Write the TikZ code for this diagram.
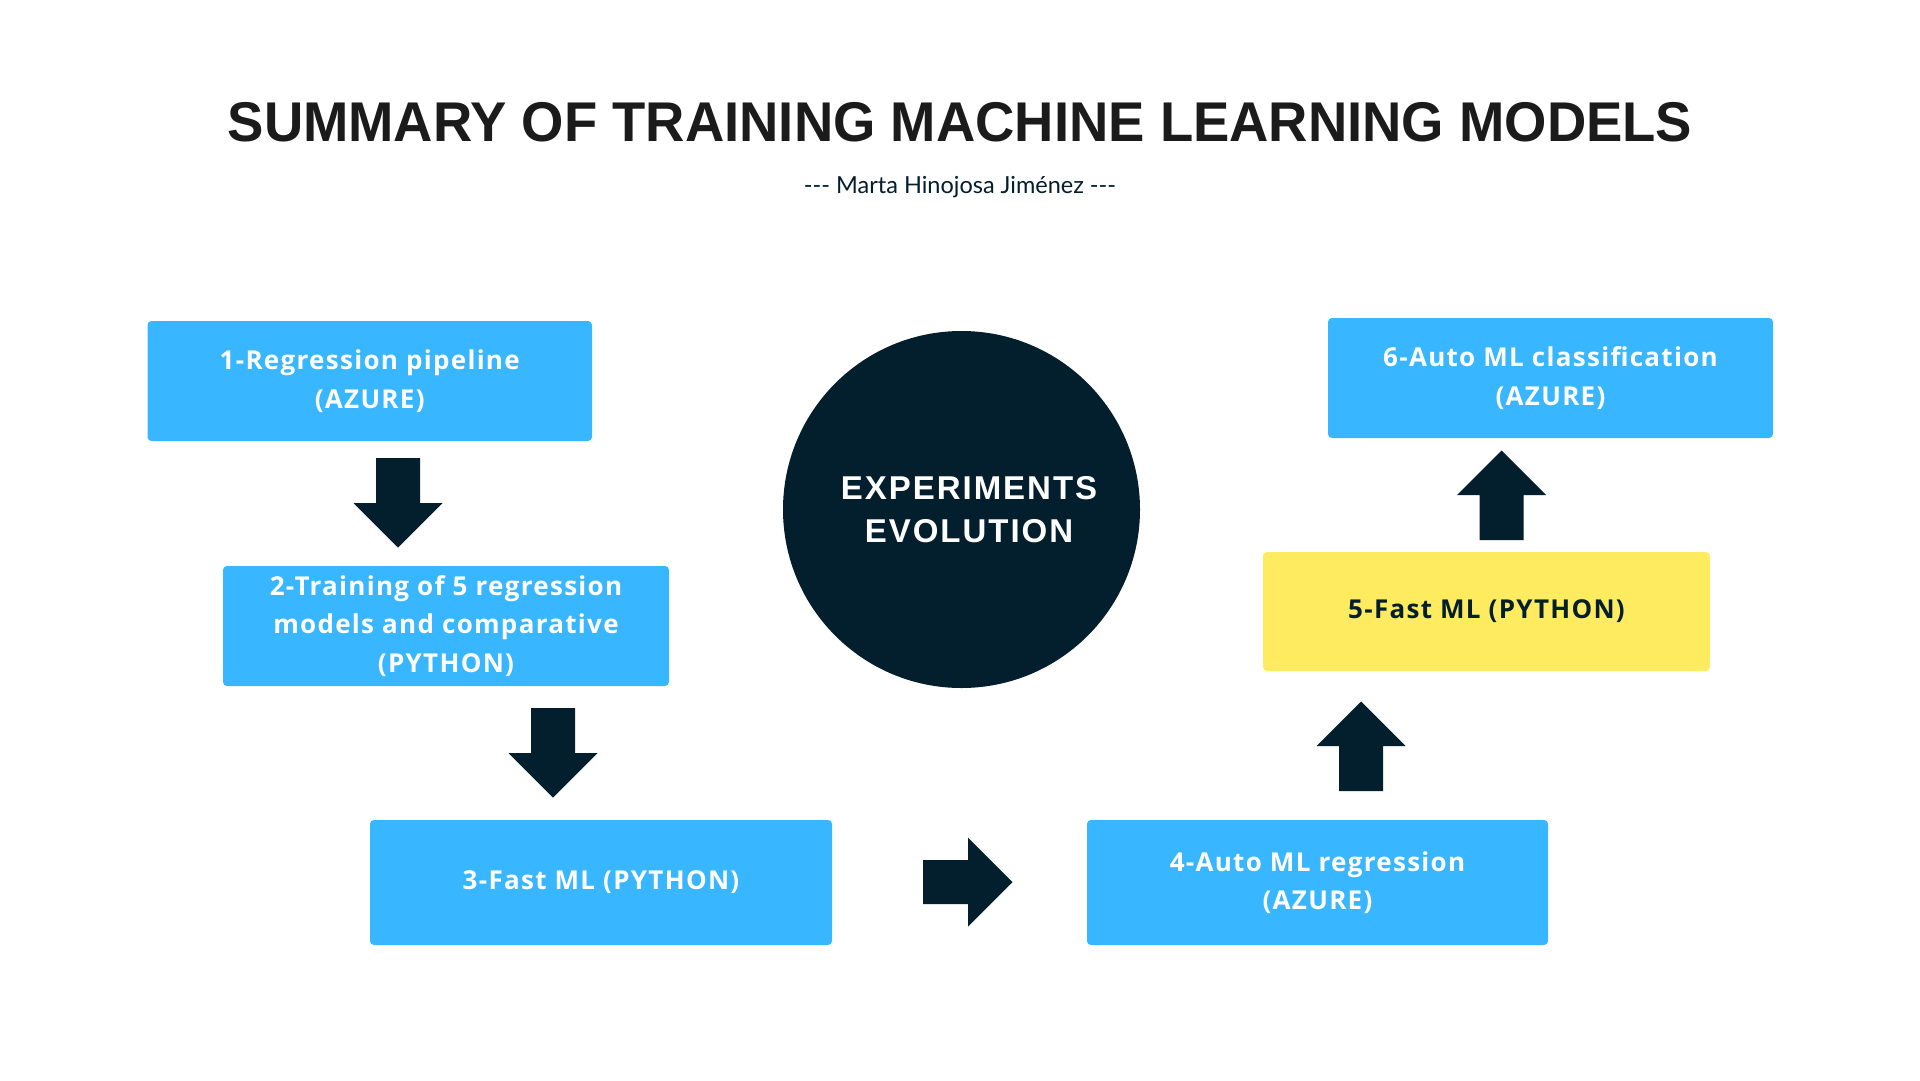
\documentclass[tikz,border=0pt]{standalone}
\usepackage{fontspec}
\setmainfont{Open Sans}
\newfontfamily\titlefont{Liberation Sans}
\newfontfamily\boxfont[LetterSpace=5]{Open Sans}
\newfontfamily\subfont{Lato}
\newfontfamily\circfont[LetterSpace=6]{Liberation Sans}
\definecolor{skyb}{HTML}{38B6FF}
\definecolor{yell}{HTML}{FFEB5F}
\definecolor{navy}{HTML}{031E2C}
\definecolor{ink}{HTML}{1B1B1B}
\tikzset{
  box/.style={rectangle, rounded corners=4pt, fill=skyb, text=white, inner sep=0pt, align=center,
    font=\boxfont\bfseries\fontsize{26}{38.5}\selectfont},
  arrdown/.pic={\fill[navy] (-22,0) -- (22,0) -- (22,45) -- (44.5,45) -- (0,89.5) -- (-44.5,45) -- (-22,45) -- cycle;},
  arrup/.pic={\fill[navy] (-22,0) -- (22,0) -- (22,-45) -- (44.5,-45) -- (0,-89.5) -- (-44.5,-45) -- (-22,-45) -- cycle;},
  arrright/.pic={\fill[navy] (0,-22) -- (0,22) -- (45,22) -- (45,44.5) -- (89.5,0) -- (45,-44.5) -- (45,-22) -- cycle;}
}
\begin{document}
\begin{tikzpicture}[x=1pt,y=-1pt]
\fill[white] (0,0) rectangle (1920,1080);
\useasboundingbox (0,0) rectangle (1920,1080);
% title
\node[anchor=base, text=ink, inner sep=0pt, font=\titlefont\bfseries\fontsize{56}{60}\selectfont] (title) at (960,141) {\scalebox{0.972}[1]{SUMMARY OF TRAINING MACHINE LEARNING MODELS}};
\node[text=navy, inner sep=0pt, font=\subfont\fontsize{23.5}{28}\selectfont] (sub) at (960,187) {{-}{-}{-} Marta Hinojosa Jiménez {-}{-}{-}};
% boxes
\node[box, minimum width=444.5pt, minimum height=120pt] (b1) at (369.75,381) {1-Regression pipeline\\(AZURE)};
\node[box, minimum width=446pt, minimum height=120pt] (b2) at (446,626) {2-Training of 5 regression\\models and comparative\\(PYTHON)};
\node[box, minimum width=462pt, minimum height=125pt] (b3) at (601,882.5) {3-Fast ML (PYTHON)};
\node[box, minimum width=461pt, minimum height=125pt] (b4) at (1317.5,882.5) {4-Auto ML regression\\(AZURE)};
\node[box, fill=yell, text=navy, minimum width=447pt, minimum height=119pt] (b5) at (1486.5,611.5) {5-Fast ML (PYTHON)};
\node[box, minimum width=445pt, minimum height=120pt] (b6) at (1550.5,378) {6-Auto ML classification\\(AZURE)};
% circle
\node[circle, fill=navy, minimum size=357pt, inner sep=0pt] (circ) at (961.5,509.5) {};
\node[text=white, align=center, inner sep=0pt, font=\circfont\bfseries\fontsize{33}{43}\selectfont] (circtxt) at (969,510) {EXPERIMENTS\\EVOLUTION};
% block arrows
\coordinate (a1) at (398,458);
\coordinate (a2) at (553,708);
\coordinate (a3) at (923,882);
\coordinate (a4) at (1361,791);
\coordinate (a5) at (1501.5,540);
\pic at (a1) {arrdown};
\pic at (a2) {arrdown};
\pic at (a3) {arrright};
\pic at (a4) {arrup};
\pic at (a5) {arrup};
\end{tikzpicture}
\end{document}
